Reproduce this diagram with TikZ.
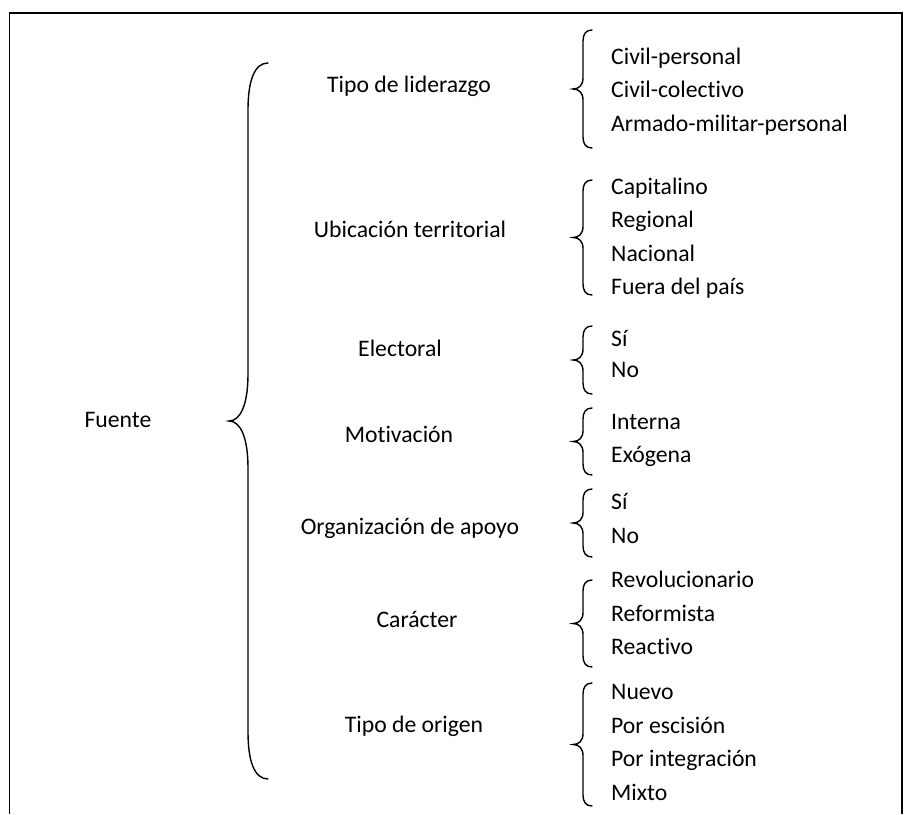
\documentclass[tikz,border=0pt]{standalone}
\usepackage{fontspec}
\setmainfont[Ligatures=NoCommon]{Carlito}

% curly brace: vertical x, top y, bottom y, tip, cusp, hook
\newcommand{\curly}[6]{%
  \draw[bracestyle] (#1+#4,#2) .. controls (#1+0.3*#4,#2) and (#1,#2+0.4*#6) .. (#1,#2+#6)
    -- (#1,{(#2+#3)/2-#6}) .. controls (#1,{(#2+#3)/2-0.35*#6}) and (#1-0.4*#5,{(#2+#3)/2}) .. (#1-#5,{(#2+#3)/2})
    .. controls (#1-0.4*#5,{(#2+#3)/2}) and (#1,{(#2+#3)/2+0.35*#6}) .. (#1,{(#2+#3)/2+#6})
    -- (#1,#3-#6) .. controls (#1,#3-0.4*#6) and (#1+0.3*#4,#3) .. (#1+#4,#3);}

\begin{document}
\begin{tikzpicture}[x=1pt,y=-1pt,
    txt/.style={font=\fontsize{23.7}{28}\selectfont, inner sep=0pt, yshift=-2pt},
    item/.style={txt, anchor=mid west},
    cat/.style={txt, anchor=mid},
    bracestyle/.style={line width=1.4pt, line cap=round}]
  \useasboundingbox (0,0) rectangle (912,814);

  % frame (open at the bottom)
  \draw[line width=1.6pt] (9.5,814) -- (9.5,13) -- (902,13) -- (902,814);

  % root and main brace
  \node[cat] (fuente) at (118,423) {Fuente};
  \curly{248}{63}{779}{20}{19}{47}

  % categories
  \node[cat] (lid) at (409,88) {Tipo de liderazgo};
  \node[cat] (ubi) at (410,233) {Ubicación territorial};
  \node[cat] (ele) at (400,352) {Electoral};
  \node[cat] (mot) at (399,438) {Motivación};
  \node[cat] (org) at (410,530) {Organización de apoyo};
  \node[cat] (car) at (417,623) {Carácter};
  \node[cat] (ori) at (414,728) {Tipo de origen};

  % small braces
  \foreach \t/\b in {30/148,180/295,326/394,408/475,489/557,580/667,683/806}
    {\curly{583}{\t}{\b}{9}{10}{11}}

  % items
  \foreach \n/\y/\s in {lidA/60/Civil-personal,lidB/93/Civil-colectivo,lidC/127/Armado-militar-personal,
      ubiA/190/Capitalino,ubiB/223/Regional,ubiC/257/Nacional,ubiD/290/Fuera del país,
      eleA/342/Sí,eleB/373/No,
      motA/425/Interna,motB/458/Exógena,
      orgA/505/Sí,orgB/539/No,
      carA/583/Revolucionario,carB/617/Reformista,carC/650/Reactivo,
      oriA/695/Nuevo,oriB/729/Por escisión,oriC/762/Por integración,oriD/796/Mixto}
    \node[item] (\n) at (611,\y) {\s};
\end{tikzpicture}
\end{document}
